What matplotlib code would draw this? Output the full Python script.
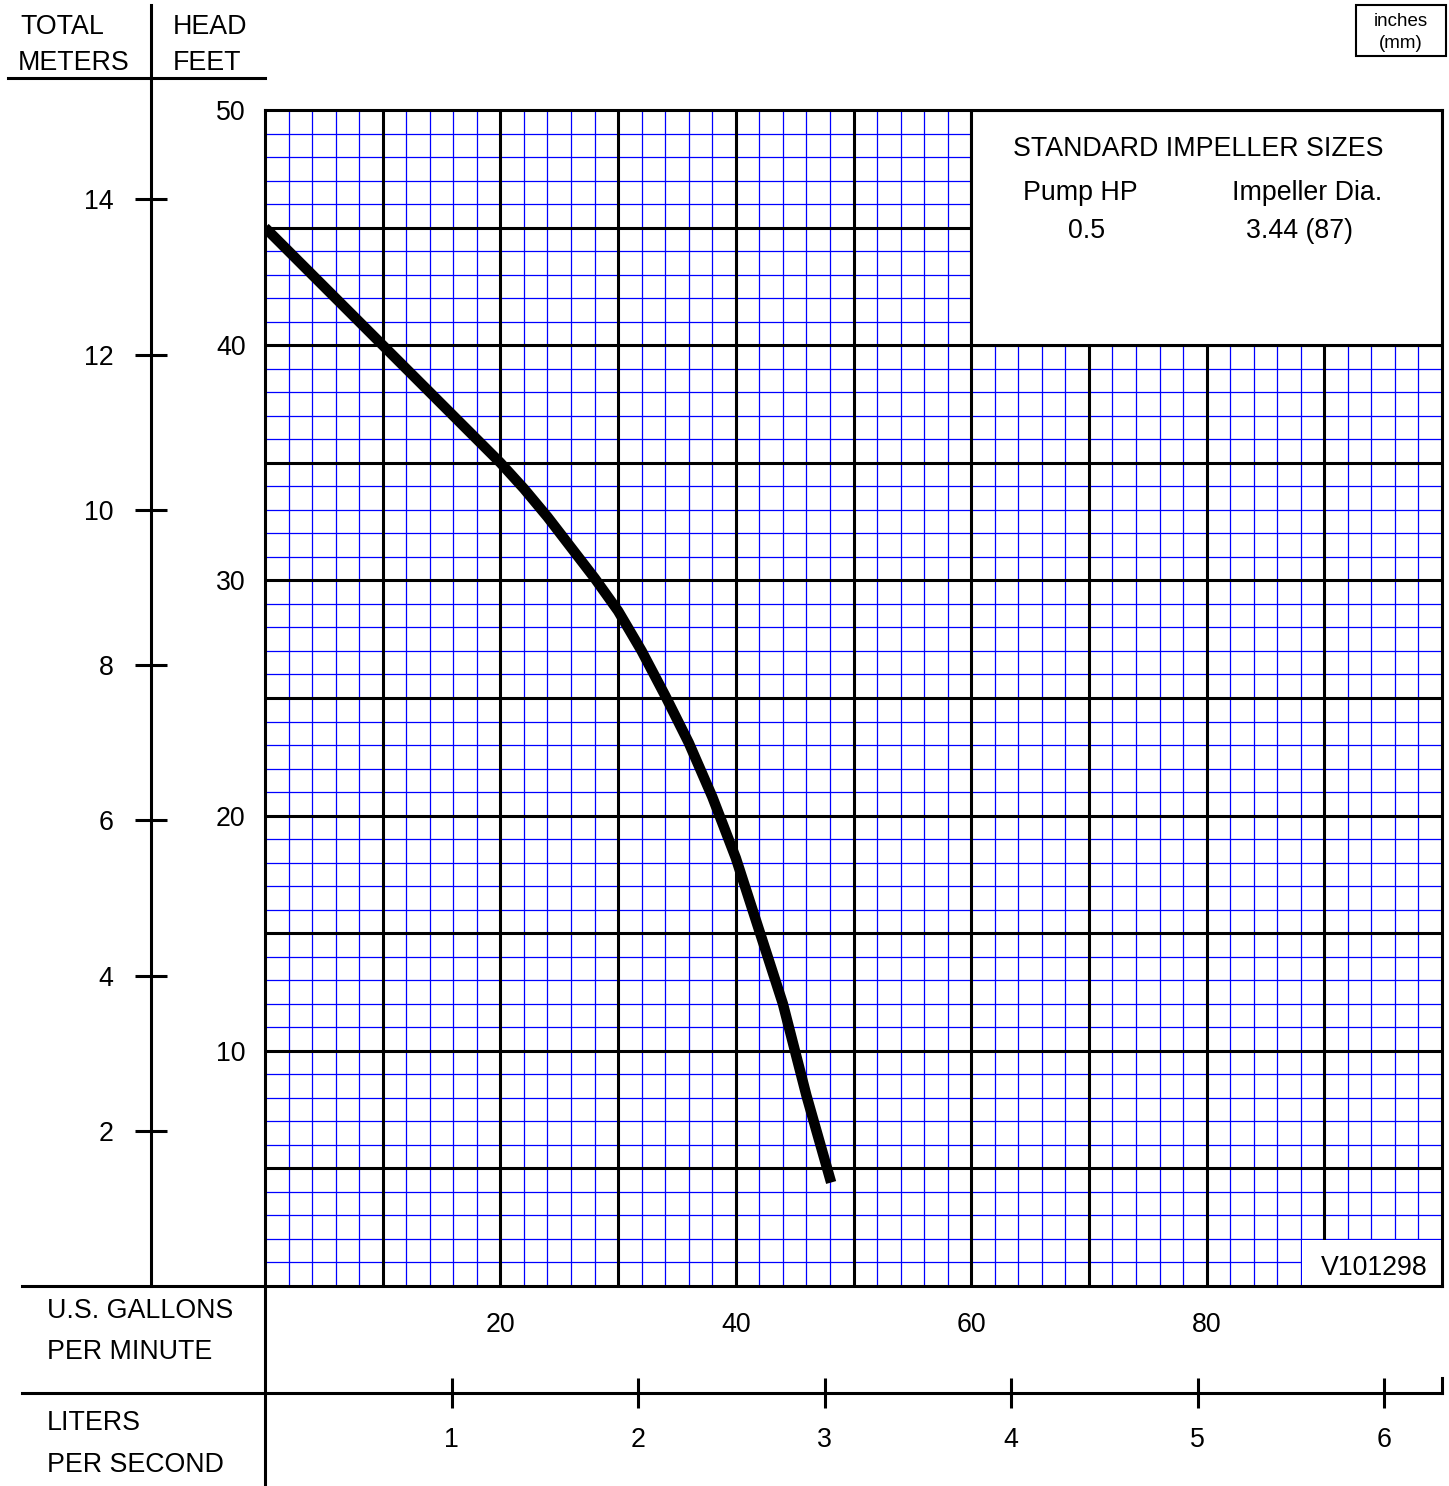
import numpy as np
import matplotlib.pyplot as plt
from matplotlib.patches import Rectangle
from matplotlib.lines import Line2D

plt.rcParams['font.family'] = ['Liberation Sans', 'DejaVu Sans']

# pump curve: flow (US gpm) vs total head (feet)
gpm = [0, 2, 4, 6, 8, 10, 12, 14, 16, 18, 20, 22, 24, 26, 28, 30,
       32, 34, 36, 38, 40, 42, 44, 46, 48.1]
head_ft = [45.0, 44.0, 43.0, 42.0, 41.0, 40.0, 39.0, 38.0, 37.0, 36.0, 35.0, 33.9,
           32.7, 31.4, 30.1, 28.7, 27.0, 25.1, 23.1, 20.8, 18.2, 15.1, 12.0, 8.1, 4.4]

gpm_labels = [20, 40, 60, 80]
feet_labels = [10, 20, 30, 40, 50]
meter_ticks = [2, 4, 6, 8, 10, 12, 14]
lps_ticks = [1, 2, 3, 4, 5, 6]

pump_hp = "0.5"
impeller_dia = "3.44 (87)"
chart_code = "V101298"

FT_PER_M = 3.30      # metre scale as drawn on the chart
GPM_PER_LPS = 15.850

W, H = 1449, 1486
BLUE = '#0000ff'
LW = 2.2  # heavy black lines
FS = 19.3


def fx(px):
    return px / W


def fy(py):
    return 1 - py / H


fig = plt.figure(figsize=(W / 100, H / 100), dpi=100)
ax = fig.add_axes([fx(265), fy(1286), fx(1442) - fx(265), fy(110) - fy(1286)])
ax.set_xlim(0, 100)
ax.set_ylim(0, 50)

# graph paper: fine blue grid, then heavy black grid on top
ax.vlines(np.arange(2, 100, 2), 0, 50, color=BLUE, lw=0.9, zorder=1)
ax.hlines(np.arange(1, 50, 1), 0, 100, color=BLUE, lw=0.9, zorder=1)
ax.vlines(np.arange(10, 100, 10), 0, 50, color='black', lw=LW, zorder=1.2)
ax.hlines(np.arange(5, 50, 5), 0, 100, color='black', lw=LW, zorder=1.2)
for s in ax.spines.values():
    s.set_linewidth(LW)
    s.set_zorder(4)

# legend panel and code panel blank out the grid
ax.add_patch(Rectangle((60, 40), 40, 10, facecolor='white', edgecolor='black',
                       lw=LW, zorder=1.5))
ax.add_patch(Rectangle((88.08, 0), 11.92, 1.96, facecolor='white', lw=0, zorder=1.5))

ax.plot(gpm, head_ft, color='black', lw=7.5, solid_capstyle='butt', zorder=3)

# feet / gpm labels
ax.set_xticks(gpm_labels)
ax.set_xticklabels([str(v) for v in gpm_labels])
ax.set_yticks(feet_labels)
ax.set_yticklabels([str(v) for v in feet_labels])
ax.tick_params(axis='x', length=0, pad=19, labelsize=FS)
ax.tick_params(axis='y', length=0, pad=14, labelsize=FS)

# metres scale on the left
sec_m = ax.secondary_yaxis(-(265 - 151) / 1177,
                           functions=(lambda f: f / FT_PER_M, lambda m: m * FT_PER_M))
sec_m.set_yticks(meter_ticks)
sec_m.spines['left'].set_visible(False)
sec_m.tick_params(direction='inout', length=23, width=LW, pad=15.5, labelsize=FS)

# litres per second scale below
sec_l = ax.secondary_xaxis(-(1393 - 1286) / 1176,
                           functions=(lambda g: g / GPM_PER_LPS, lambda l: l * GPM_PER_LPS))
sec_l.set_xticks(lps_ticks)
sec_l.spines['bottom'].set_visible(False)
sec_l.tick_params(direction='inout', length=22, width=LW, pad=13.5, labelsize=FS)


def fline(x0, y0, x1, y1, lw=LW):
    fig.add_artist(Line2D([fx(x0), fx(x1)], [fy(y0), fy(y1)],
                          transform=fig.transFigure, color='black', lw=lw))


fline(151, 5, 151, 1286)
fline(8, 78, 265, 78)
fline(22, 1286, 265, 1286)
fline(22, 1393, 1442, 1393)
fline(265, 1286, 265, 1486)
fline(1442, 1378, 1442, 1393)

fig.text(fx(20), fy(27), "TOTAL", ha='left', va='center', fontsize=FS)
fig.text(fx(18), fy(63), "METERS", ha='left', va='center', fontsize=FS)
fig.text(fx(173), fy(27), "HEAD", ha='left', va='center', fontsize=FS)
fig.text(fx(173), fy(63), "FEET", ha='left', va='center', fontsize=FS)
fig.text(fx(47), fy(1311), "U.S. GALLONS", ha='left', va='center', fontsize=FS)
fig.text(fx(47), fy(1352), "PER MINUTE", ha='left', va='center', fontsize=FS)
fig.text(fx(47), fy(1423), "LITERS", ha='left', va='center', fontsize=FS)
fig.text(fx(47), fy(1465), "PER SECOND", ha='left', va='center', fontsize=FS)

# units box, top right
fig.add_artist(Rectangle((fx(1356), fy(56)), fx(1446) - fx(1356), fy(5) - fy(56),
                         transform=fig.transFigure, facecolor='white',
                         edgecolor='black', lw=1.5))
fig.text(fx(1401), fy(21), "inches", ha='center', va='center', fontsize=13.5)
fig.text(fx(1401), fy(44), "(mm)", ha='center', va='center', fontsize=13.5)

# impeller table
ax.text(0.793, 0.967, "STANDARD IMPELLER SIZES", transform=ax.transAxes,
        ha='center', va='center', fontsize=FS, zorder=5)
ax.text(0.693, 0.929, "Pump HP", transform=ax.transAxes,
        ha='center', va='center', fontsize=FS, zorder=5)
ax.text(0.885, 0.929, "Impeller Dia.", transform=ax.transAxes,
        ha='center', va='center', fontsize=FS, zorder=5)
ax.text(0.698, 0.897, pump_hp, transform=ax.transAxes,
        ha='center', va='center', fontsize=FS, zorder=5)
ax.text(0.879, 0.897, impeller_dia, transform=ax.transAxes,
        ha='center', va='center', fontsize=FS, zorder=5)
ax.text(0.988, 0.015, chart_code, transform=ax.transAxes,
        ha='right', va='center', fontsize=FS, zorder=5)

fig.savefig('out.png', dpi=100)
